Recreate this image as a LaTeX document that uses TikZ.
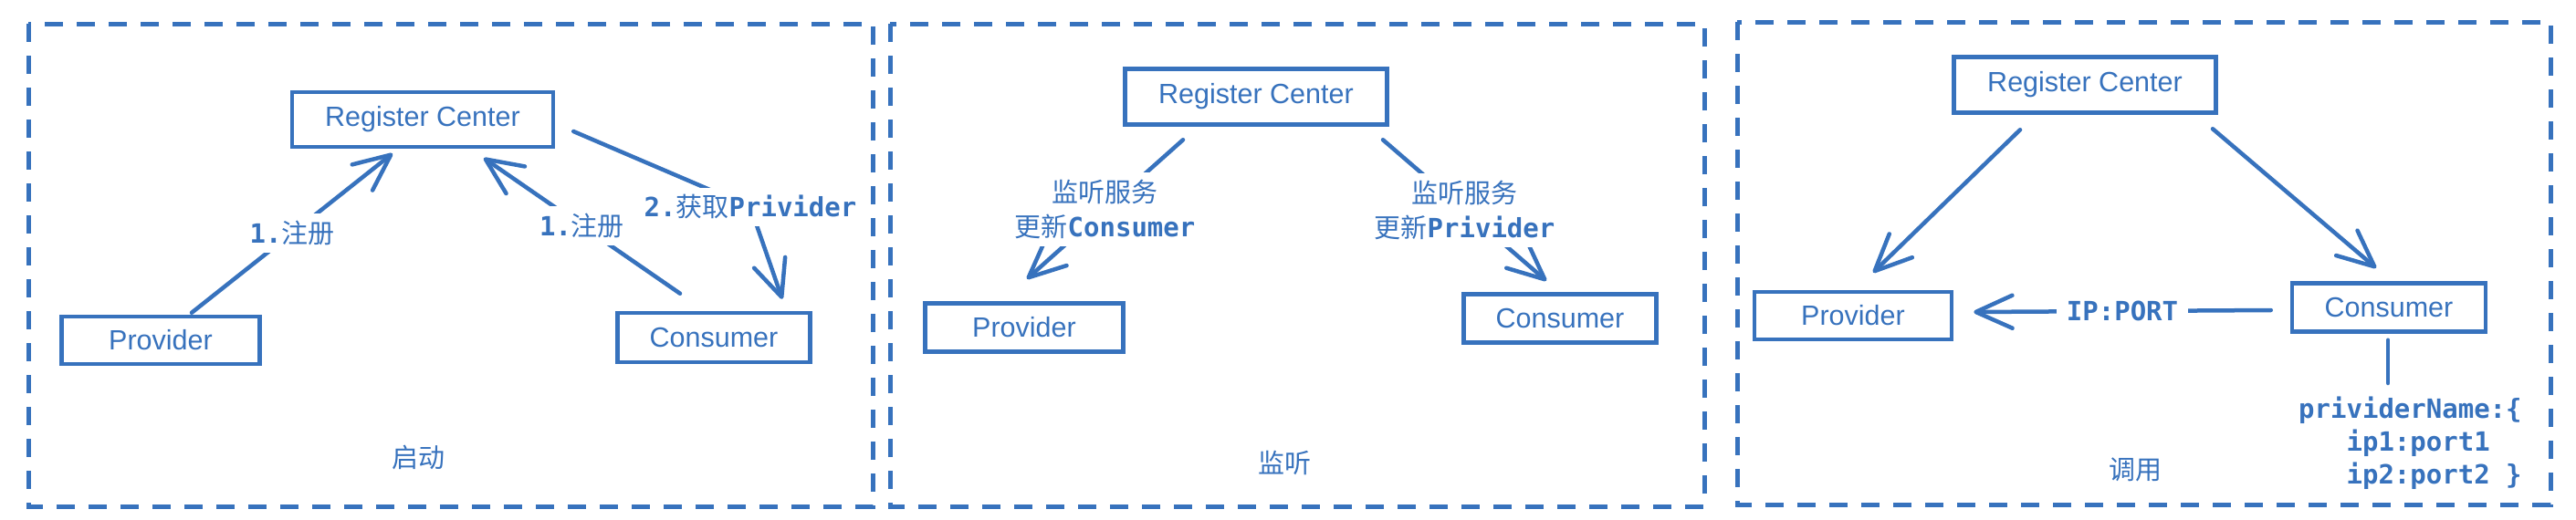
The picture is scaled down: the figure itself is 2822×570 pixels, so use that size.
\documentclass[tikz,border=0pt]{standalone}
\usepackage{fontspec}
\setmainfont{Liberation Sans}
\newfontfamily\cjk{Noto Sans CJK SC}
\newfontfamily\monofam{DejaVu Sans Mono}
\newcommand\mn[1]{{\monofam\bfseries #1}}
\usetikzlibrary{arrows.meta,calc}
\definecolor{sk}{RGB}{55,114,189}
\tikzset{
  box/.style={draw=sk, line width=4.5pt, inner sep=0pt, text=sk,
    font=\fontsize{30.5}{36}\selectfont},
  frame/.style={draw=sk, line width=5pt, dash pattern=on 20pt off 15pt},
  arr/.style={draw=sk, line width=4.5pt, line cap=round, line join=round,
    -{Straight Barb[length=40pt,width=36pt,line cap=round,line join=round]}},
  plain/.style={draw=sk, line width=4.5pt, line cap=round},
  lab/.style={fill=white, inner sep=8pt, text=sk, align=center,
    font=\fontsize{29}{38}\selectfont},
  title/.style={text=sk, inner sep=0pt, font=\cjk\fontsize{29}{36}\selectfont},
}
\begin{document}
\begin{tikzpicture}[x=1pt,y=-1pt]
\useasboundingbox[fill=white] (0,0) rectangle (2822,570);
% frames
\draw[frame] (31,26) rectangle (956,555);
\draw[frame] (975,26) rectangle (1867,555);
\draw[frame] (1903,24) rectangle (2794,553);

% ---------- panel 1 : start ----------
\node[box, minimum width=286pt, minimum height=60pt] (rc1) at (463,131) {Register Center};
\node[box, minimum width=217pt, minimum height=52pt] (prov1) at (176,373) {Provider};
\node[box, minimum width=211pt, minimum height=54pt] (con1) at (782,370) {Consumer};
\node[title] (t1) at (458,501) {启动};

\draw[arr] ($(prov1.north)+(34,-2)$) -- node[lab] (l1) {\mn{1.}{\cjk 注册}} ($(rc1.south)+(-33,5)$);
\draw[arr] ($(con1.north)+(-37,-19)$) -- node[lab] (l2) {\mn{1.}{\cjk 注册}} ($(rc1.south)+(67,10)$);
\coordinate (c3) at (822,227);
\draw[arr] ($(rc1.east)+(20,13)$) -- (c3) -- ($(con1.north)+(75,-13)$);
\node[lab] (l3) at (c3) {\mn{2.}{\cjk 获取}\mn{Privider}};

% ---------- panel 2 : listen ----------
\node[box, minimum width=287pt, minimum height=61pt] (rc2) at (1376,106) {Register Center};
\node[box, minimum width=217pt, minimum height=53pt] (prov2) at (1122,359) {Provider};
\node[box, minimum width=211pt, minimum height=53pt] (con2) at (1709,349) {Consumer};
\node[title] (t2) at (1407,507) {监听};

\draw[arr] ($(rc2.south)+(-80,14.5)$) -- node[lab] (l4) {{\cjk 监听服务}\\{\cjk 更新}\mn{Consumer}} ($(prov2.north)+(3,-24.5)$);
\draw[arr] ($(rc2.south)+(139,14.5)$) -- node[lab] (l5) {{\cjk 监听服务}\\{\cjk 更新}\mn{Privider}} ($(con2.north)+(-15,-12.5)$);

% ---------- panel 3 : invoke ----------
\node[box, minimum width=287pt, minimum height=61pt] (rc3) at (2284,93) {Register Center};
\node[box, minimum width=216pt, minimum height=52pt] (prov3) at (2030,346) {Provider};
\node[box, minimum width=212pt, minimum height=53pt] (con3) at (2617,337) {Consumer};
\node[title] (t3) at (2339,515) {调用};

\draw[arr] ($(rc3.south)+(-71,16.5)$) -- ($(prov3.north)+(22,-19)$);
\draw[arr] ($(rc3.south)+(140,15.5)$) -- ($(con3.north)+(-14,-14.5)$);
\draw[arr] ($(con3.west)+(-21,3)$) -- node[lab, inner xsep=11pt] (l6) {\mn{IP:PORT}} ($(prov3.east)+(22,-4)$);

\node[anchor=north west, align=left, inner sep=0pt, text=sk,
  font=\monofam\bfseries\fontsize{29}{36}\selectfont] (code) at (2518,435)
  {prividerName:\{\\\hphantom{pri}ip1:port1\\\hphantom{pri}ip2:port2 \}};
\coordinate (c4) at (2616,420);
\draw[plain] ($(con3.south)+(-1,7)$) -- (c4);
\end{tikzpicture}
\end{document}
